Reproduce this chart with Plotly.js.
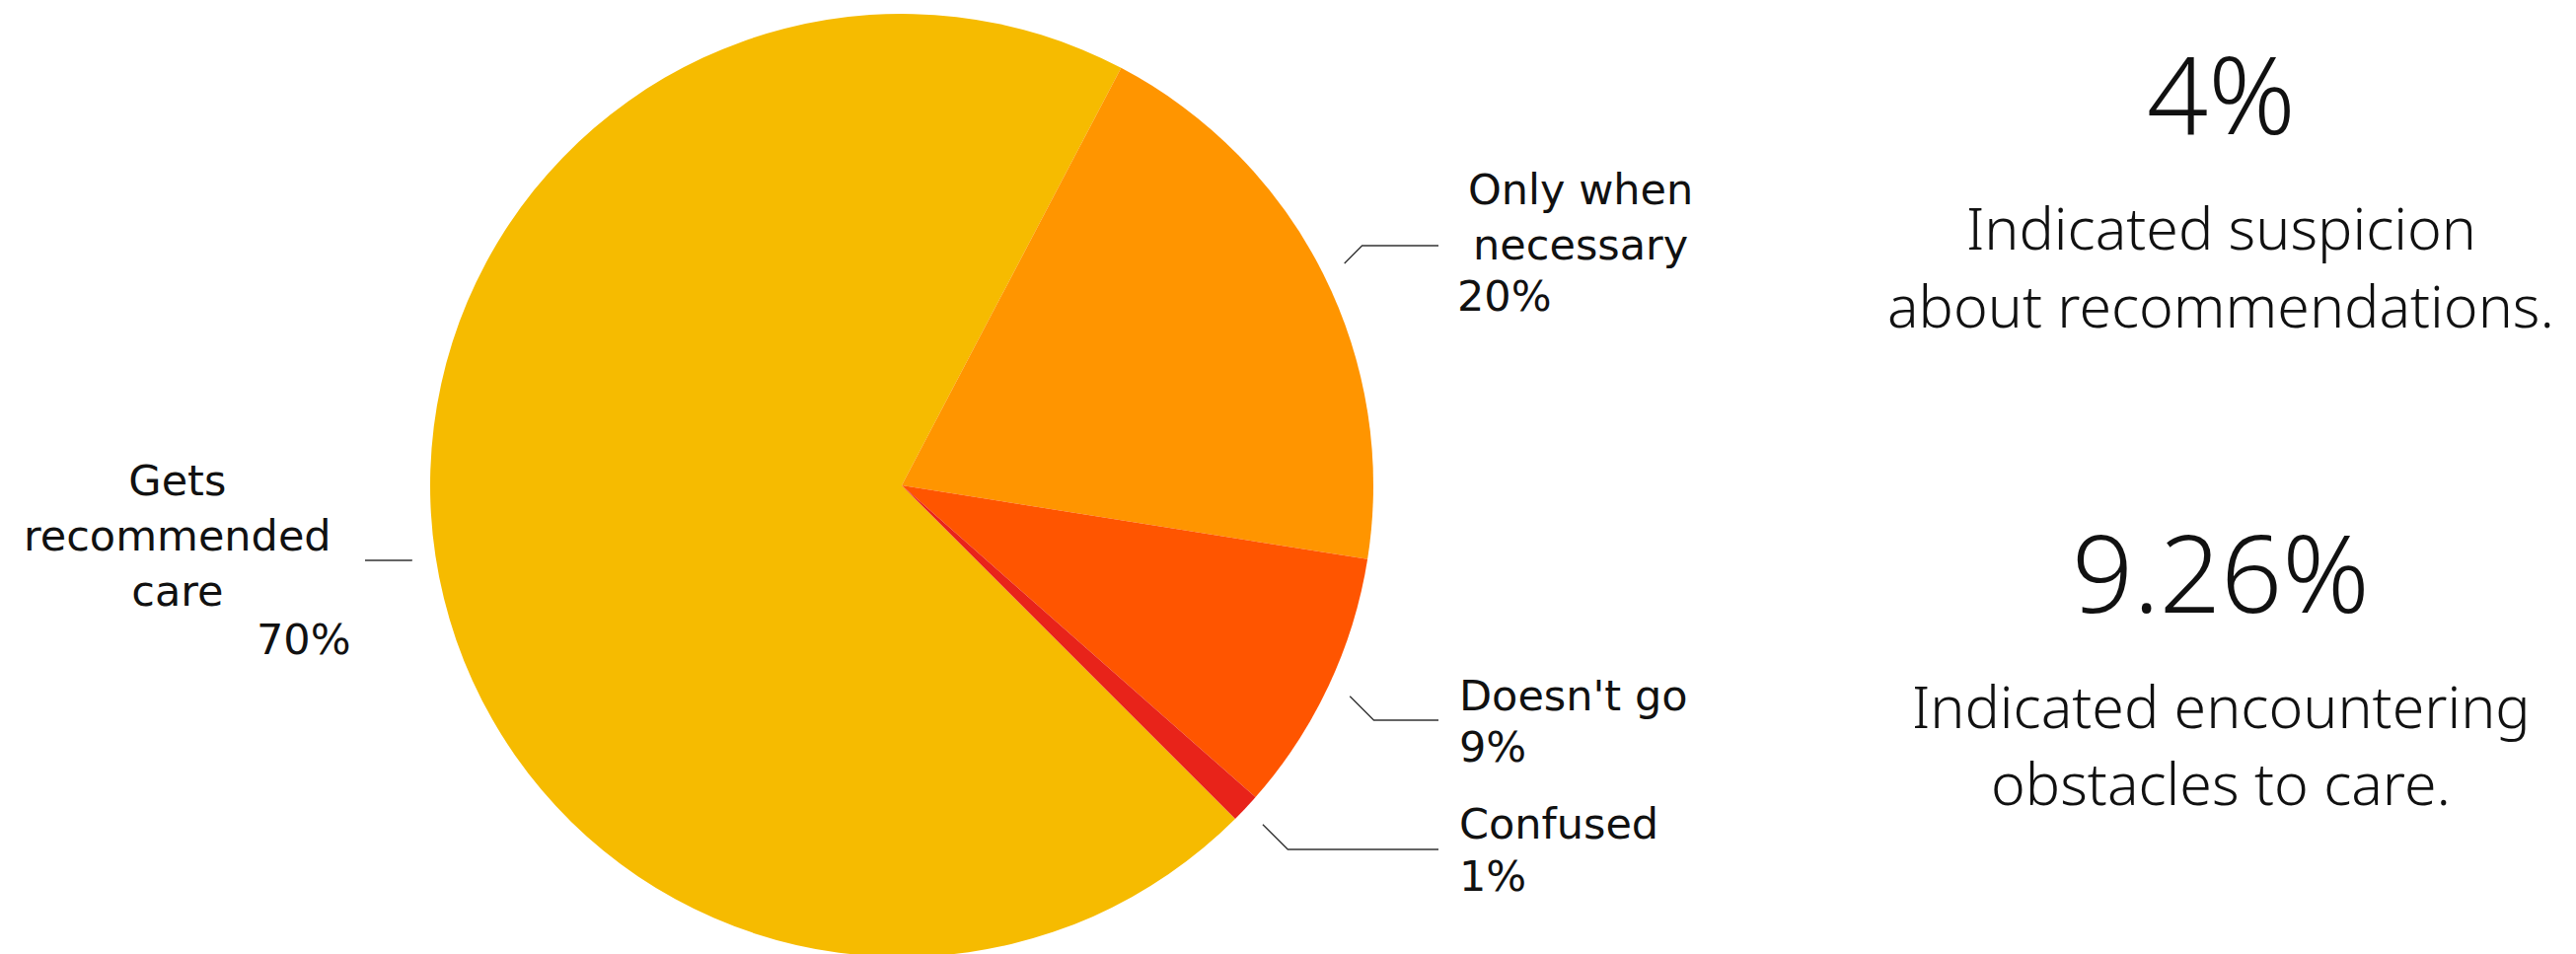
<!DOCTYPE html>
<html>
<head>
<meta charset="utf-8">
<script src="https://cdn.plot.ly/plotly-3.0.1.min.js"></script>
<style>
  html, body { margin: 0; padding: 0; overflow: hidden; background: #ffffff; }
  #chart { width: 2611px; height: 975px; }
</style>
</head>
<body>
<div id="chart"></div>
<script>
// ---- data ----
const categories = ["Gets recommended care", "Only when necessary", "Doesn't go", "Confused"];
const labelLines = [["Gets", "recommended", "care"], ["Only when", "necessary"], ["Doesn't go"], ["Confused"]];
const shares = [70.2, 19.8, 9.0, 1.0];
const sliceColors = ["#F6BB00", "#FF9500", "#FF5500", "#E8231A"];
const statValues = ["4%", "9.26%"];
const statCaptions = [["Indicated suspicion", "about recommendations."], ["Indicated encountering", "obstacles to care."]];

// ---- layout constants (pixels) ----
const W = 2611, H = 975;
const CX = 914, CY = 492, R = 478;
const START_ANGLE = 135;            // first slice starts here, clockwise
const LEADER_OFFSET = 24;
// per-label placement (layout, not data)
const labelPlace = [
  { side: "left",  elbowY: 568, lineEndX: 370,  textX: 180,  textY: 543, textAnchor: "center", pctX: 308,  pctY: 648, pctAnchor: "center" },
  { side: "right", elbowY: 249, lineEndX: 1458, textX: 1602, textY: 220, textAnchor: "center", pctX: 1475, pctY: 300, pctAnchor: "left" },
  { side: "right", elbowY: 730, lineEndX: 1458, textX: 1477, textY: 705, textAnchor: "left",   pctX: 1477, pctY: 757, pctAnchor: "left" },
  { side: "right", elbowY: 861, lineEndX: 1458, textX: 1477, textY: 835, textAnchor: "left",   pctX: 1477, pctY: 888, pctAnchor: "left" }
];
const statPlace = [
  { x: 2251, valueY: 93,  capY: [230, 309] },
  { x: 2251, valueY: 578, capY: [715, 793] }
];

const px = x => x / W;
const py = y => 1 - y / H;

const LABEL_FONT = { family: "DejaVu Sans", size: 43, color: "#111111" };
const STAT_FONT = { family: "Noto Sans", size: 109, color: "#111111", weight: 300 };
const CAP_FONT = { family: "Noto Sans", size: 59, color: "#111111", weight: 300 };

const trace = {
  type: "pie",
  labels: categories,
  values: shares,
  sort: false,
  direction: "clockwise",
  rotation: START_ANGLE,
  marker: { colors: sliceColors, line: { width: 0 } },
  textinfo: "none",
  hoverinfo: "label+percent",
  showlegend: false,
  domain: { x: [px(CX - R), px(CX + R)], y: [py(CY + R), py(CY - R)] }
};

const total = shares.reduce((a, b) => a + b, 0);
const shapes = [];
const annotations = [];
let acc = 0;
shares.forEach((v, i) => {
  const mid = START_ANGLE + (acc + v / 2) / total * 360;
  acc += v;
  const a = mid * Math.PI / 180;
  const p0x = CX + (R + LEADER_OFFSET) * Math.sin(a);
  const p0y = CY - (R + LEADER_OFFSET) * Math.cos(a);
  const L = labelPlace[i];
  const dy = Math.abs(L.elbowY - p0y);
  const ex = L.side === "right" ? p0x + dy : p0x - dy;
  shapes.push({
    type: "path", xref: "paper", yref: "paper",
    path: `M ${px(p0x)} ${py(p0y)} L ${px(ex)} ${py(L.elbowY)} L ${px(L.lineEndX)} ${py(L.elbowY)}`,
    line: { color: "#333333", width: 1.4 }
  });
  annotations.push({
    xref: "paper", yref: "paper", x: px(L.textX), y: py(L.textY),
    xanchor: L.textAnchor, yanchor: "middle", align: "center",
    text: labelLines[i].join("<br>"), showarrow: false, font: LABEL_FONT
  });
  annotations.push({
    xref: "paper", yref: "paper", x: px(L.pctX), y: py(L.pctY),
    xanchor: L.pctAnchor, yanchor: "middle",
    text: Math.round(v / total * 100) + "%", showarrow: false, font: LABEL_FONT
  });
});

statValues.forEach((s, i) => {
  const P = statPlace[i];
  annotations.push({
    xref: "paper", yref: "paper", x: px(P.x), y: py(P.valueY),
    xanchor: "center", yanchor: "middle", text: s, showarrow: false, font: STAT_FONT
  });
  statCaptions[i].forEach((line, j) => {
    annotations.push({
      xref: "paper", yref: "paper", x: px(P.x), y: py(P.capY[j]),
      xanchor: "center", yanchor: "middle", text: line, showarrow: false, font: CAP_FONT
    });
  });
});

const layout = {
  width: W, height: H, autosize: false,
  margin: { l: 0, r: 0, t: 0, b: 0, pad: 0 },
  paper_bgcolor: "#ffffff", plot_bgcolor: "#ffffff",
  shapes: shapes, annotations: annotations,
  showlegend: false
};

Plotly.newPlot("chart", [trace], layout, { displayModeBar: false, staticPlot: false });
</script>
</body>
</html>
